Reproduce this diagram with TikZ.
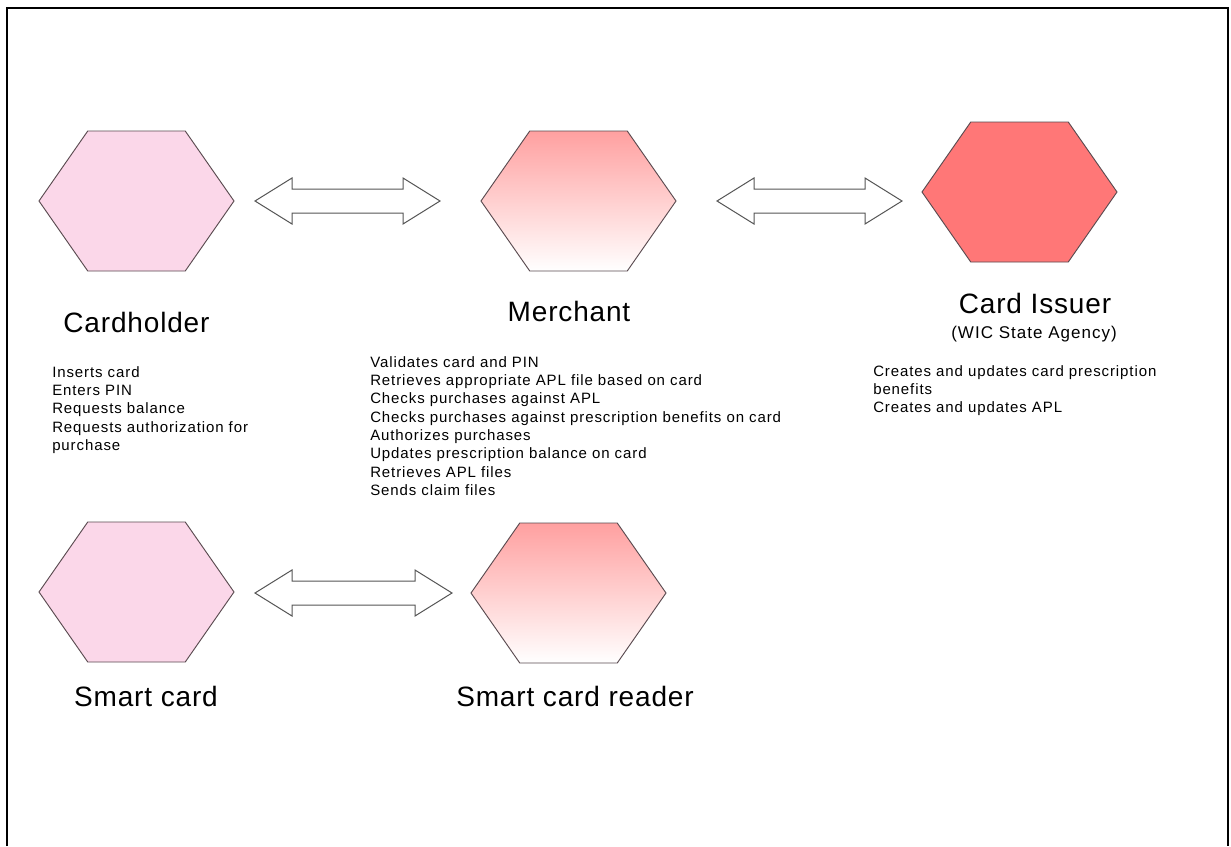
\documentclass[tikz,border=0pt]{standalone}
\usepackage{fontspec}
\setmainfont{Liberation Sans}
\newfontfamily\lstfont[LetterSpace=6]{Liberation Sans}
\newfontfamily\lblfont[LetterSpace=3]{Liberation Sans}
\newfontfamily\subfont[LetterSpace=6]{Liberation Sans}
\usetikzlibrary{calc}
\definecolor{pinkfill}{RGB}{251,215,233}
\definecolor{issuerfill}{RGB}{255,119,119}
\definecolor{gradtop}{RGB}{255,160,160}
\definecolor{hexedge}{RGB}{90,75,80}
\definecolor{arrowedge}{RGB}{85,85,85}
\tikzset{
  hexbox/.style={minimum width=146.25pt, minimum height=105pt, inner sep=0pt, outer sep=0pt},
  hexline/.style={draw=hexedge, line width=0.7pt, line join=miter},
  arrowline/.style={draw=arrowedge, fill=white, line width=0.75pt, line join=miter},
  biglabel/.style={anchor=base, inner sep=0pt, font={\lblfont\fontsize{21}{25}\selectfont}},
  sublabel/.style={anchor=base, inner sep=0pt, font={\subfont\fontsize{12.75}{15}\selectfont}},
  listtext/.style={anchor=north west, inner sep=0pt, align=left, font={\lstfont\fontsize{11.25}{13.75}\selectfont}},
  frameline/.style={draw=black, line width=1.6pt}
}
\newcommand\drawhex[2]{%
  \path[hexline,#2] (#1.west)
    -- ($(#1.north west)!0.25!(#1.north east)$)
    -- ($(#1.north west)!0.75!(#1.north east)$)
    -- (#1.east)
    -- ($(#1.south west)!0.75!(#1.south east)$)
    -- ($(#1.south west)!0.25!(#1.south east)$)
    -- cycle;}
\newcommand\blockarrow[2]{%
  \draw[arrowline] (#1) -- ++(37,-23) -- ++(0,11) -- ($(#2)+(-37,-12)$)
    -- ++(0,-11) -- (#2) -- ++(-37,23) -- ++(0,-11) -- ($(#1)+(37,12)$)
    -- ++(0,11) -- cycle;}
\begin{document}
\begin{tikzpicture}[x=0.75pt, y=-0.75pt]
\useasboundingbox (0,0) rectangle (1231,846);
\fill[white] (0,0) rectangle (1231,846);
% frame
\draw[frameline] (7,846) -- (7,8) -- (1228,8) -- (1228,846);

% hexagon boxes
\node[hexbox] (ch) at (136.5,201) {};
\node[hexbox] (me) at (578.5,201) {};
\node[hexbox] (ci) at (1019.5,192) {};
\node[hexbox] (sc) at (136.5,592) {};
\node[hexbox] (sr) at (568.5,593) {};

\drawhex{ch}{fill=pinkfill}
\drawhex{me}{top color=gradtop, bottom color=white}
\drawhex{ci}{fill=issuerfill}
\drawhex{sc}{fill=pinkfill}
\drawhex{sr}{top color=gradtop, bottom color=white}

% block arrows
\coordinate (a1l) at (255,201);
\coordinate (a1r) at (440,201);
\coordinate (a2l) at (717,201);
\coordinate (a2r) at (902,201);
\coordinate (a3l) at (255,593);
\coordinate (a3r) at (452,593);
\blockarrow{a1l}{a1r}
\blockarrow{a2l}{a2r}
\blockarrow{a3l}{a3r}

% labels
\node[biglabel] (chl) at (136.5,332) {Cardholder};
\node[biglabel] (mel) at (569,321) {Merchant};
\node[biglabel] (cil) at (1035,313) {Card Issuer};
\node[sublabel] (cis) at (1034,338) {(WIC State Agency)};
\node[biglabel] (scl) at (146,706) {Smart card};
\node[biglabel] (srl) at (575,706) {Smart card reader};

% lists
\node[listtext] (chlist) at (52,366) {Inserts card\\Enters PIN\\Requests balance\\Requests authorization for\\purchase};
\node[listtext] (melist) at (370,356) {Validates card and PIN\\Retrieves appropriate APL file based on card\\Checks purchases against APL\\Checks purchases against prescription benefits on card\\Authorizes purchases\\Updates prescription balance on card\\Retrieves APL files\\Sends claim files};
\node[listtext] (cilist) at (873,365) {Creates and updates card prescription\\benefits\\Creates and updates APL};
\end{tikzpicture}
\end{document}
